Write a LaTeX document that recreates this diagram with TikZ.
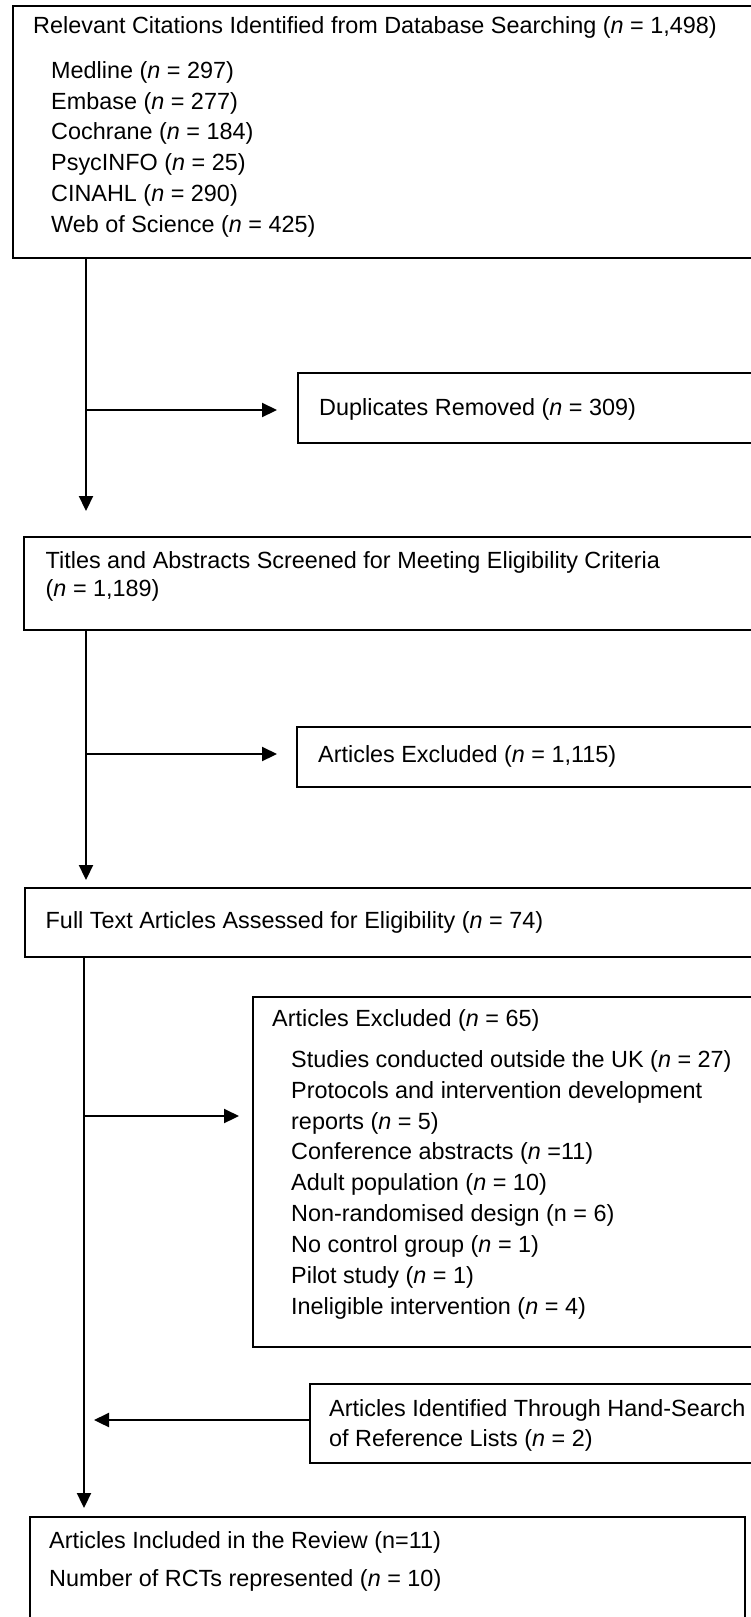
\documentclass[tikz,border=0pt]{standalone}
\usepackage{fontspec}
\setmainfont{Liberation Sans}
\usetikzlibrary{arrows.meta}
\begin{document}
\begin{tikzpicture}[x=1pt,y=-1pt,
  box/.style={draw=black, line width=2pt, rectangle, inner sep=0pt, outer sep=0pt, anchor=north west},
  txt/.style={anchor=west, inner sep=0pt, font=\fontsize{23.4}{28}\selectfont},
  arr/.style={line width=2.2pt, -{Triangle[length=15pt,width=14pt]}}]
\useasboundingbox (0,0) rectangle (750,1617);
% boxes
\node[box, minimum width=739pt, minimum height=252pt] (b1) at (13,6) {};
\node[box, minimum width=454pt, minimum height=70pt] (dup) at (298,373) {};
\node[box, minimum width=728pt, minimum height=93pt] (b2) at (24,537) {};
\node[box, minimum width=455pt, minimum height=60pt] (ex1) at (297,727) {};
\node[box, minimum width=727pt, minimum height=69pt] (b3) at (25,888) {};
\node[box, minimum width=499.5pt, minimum height=350pt] (ex2) at (252.5,997) {};
\node[box, minimum width=442.5pt, minimum height=79pt] (hand) at (309.5,1384) {};
\node[box, minimum width=715.5pt, minimum height=115pt] (fin) at (29.5,1517) {};
% texts
\node[txt] (t1) at (33,27) {Relevant Citations Identified from Database Searching (\textit{n} = 1,498)};
\node[txt] (t1a) at (51,72) {Medline (\textit{n} = 297)};
\node[txt] (t1b) at (51,103) {Embase (\textit{n} = 277)};
\node[txt] (t1c) at (51,133) {Cochrane (\textit{n} = 184)};
\node[txt] (t1d) at (51,164) {PsycINFO (\textit{n} = 25)};
\node[txt] (t1e) at (51,195) {CINAHL (\textit{n} = 290)};
\node[txt] (t1f) at (51,226) {Web of Science (\textit{n} = 425)};
\node[txt] (tdup) at (319,409) {Duplicates Removed (\textit{n} = 309)};
\node[txt] (t2a) at (45.5,562) {Titles and Abstracts Screened for Meeting Eligibility Criteria};
\node[txt] (t2b) at (45.5,590) {(\textit{n} = 1,189)};
\node[txt] (tex1) at (318,756) {Articles Excluded (\textit{n} = 1,115)};
\node[txt] (t3) at (45.5,922) {Full Text Articles Assessed for Eligibility (\textit{n} = 74)};
\node[txt] (tex2) at (272,1020) {Articles Excluded (\textit{n} = 65)};
\node[txt] (e1) at (291,1061) {Studies conducted outside the UK (\textit{n} = 27)};
\node[txt] (e2) at (291,1092) {Protocols and intervention development};
\node[txt] (e3) at (291,1123) {reports (\textit{n} = 5)};
\node[txt] (e4) at (291,1153) {Conference abstracts (\textit{n} =11)};
\node[txt] (e5) at (291,1184) {Adult population (\textit{n} = 10)};
\node[txt] (e6) at (291,1215) {Non-randomised design (n = 6)};
\node[txt] (e7) at (291,1246) {No control group (\textit{n} = 1)};
\node[txt] (e8) at (291,1277) {Pilot study (\textit{n} = 1)};
\node[txt] (e9) at (291,1308) {Ineligible intervention (\textit{n} = 4)};
\node[txt] (th1) at (329,1410) {Articles Identified Through Hand-Search};
\node[txt] (th2) at (329,1440) {of Reference Lists (\textit{n} = 2)};
\node[txt] (tf1) at (49,1542) {Articles Included in the Review (n=11)};
\node[txt] (tf2) at (49,1580) {Number of RCTs represented (\textit{n} = 10)};
% connectors
\coordinate (m1) at (86,410);
\coordinate (m2) at (86,754);
\coordinate (m3) at (84,1116);
\coordinate (m4) at (84,1420);
\draw[arr, shorten >=26pt] (b1.south -| m1) -- (b2.north -| m1);
\draw[arr, shorten >=21pt] (m1) -- (dup.west |- m1);
\draw[arr, shorten >=8pt] (b2.south -| m2) -- (b3.north -| m2);
\draw[arr, shorten >=20pt] (m2) -- (ex1.west |- m2);
\draw[arr, shorten >=9pt] (b3.south -| m3) -- (fin.north -| m3);
\draw[arr, shorten >=13.5pt] (m3) -- (ex2.west |- m3);
\draw[arr, shorten >=10pt] (hand.west |- m4) -- (m4);
\end{tikzpicture}
\end{document}
